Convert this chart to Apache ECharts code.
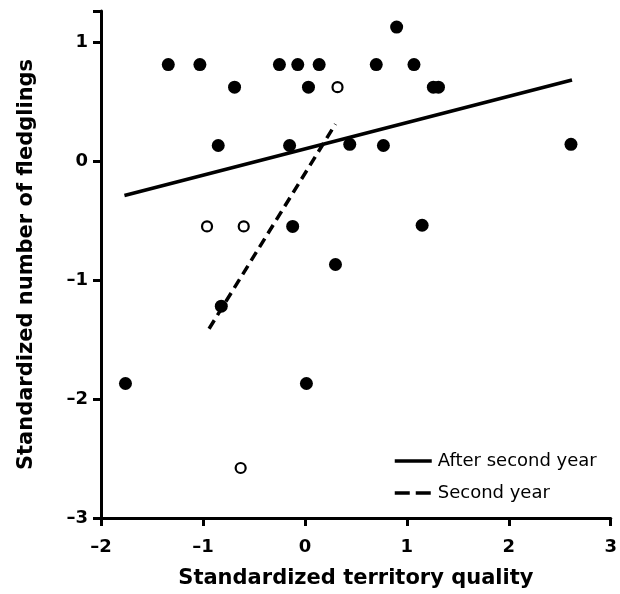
<!DOCTYPE html>
<html><head><meta charset="utf-8">
<script src="https://cdn.jsdelivr.net/npm/echarts@6/dist/echarts.min.js"></script>
<style>html,body{margin:0;padding:0;background:#fff}#c{width:620px;height:594px}</style>
</head><body><div id="c"></div>
<script>
const xTicks = [-2, -1, 0, 1, 2, 3];
const yTicks = [-3, -2, -1, 0, 1];
const filledPoints = [
  [-1.34, 0.81], [-1.03, 0.81], [-0.25, 0.81], [-0.07, 0.81], [0.14, 0.81],
  [0.70, 0.81], [1.07, 0.81], [0.90, 1.125],
  [-0.69, 0.62], [0.035, 0.62], [1.26, 0.62], [1.31, 0.62],
  [-0.85, 0.13], [-0.15, 0.13], [0.44, 0.14], [0.77, 0.13], [2.61, 0.14],
  [-0.12, -0.55], [1.15, -0.54], [0.30, -0.87],
  [-0.82, -1.22], [-1.76, -1.87], [0.015, -1.87]
];
const openPoints = [[0.32, 0.62], [-0.96, -0.55], [-0.60, -0.55], [-0.63, -2.58]];
const afterSecondYearLine = [[-1.77, -0.29], [2.62, 0.68]];
const secondYearLine = [[-0.94, -1.41], [0.30, 0.31]];

const font = 'DejaVu Sans, Liberation Sans, sans-serif';
const fmt = v => String(v).replace('-', '\u2013');
const chart = echarts.init(document.getElementById('c'), null, {renderer: 'canvas'});
chart.setOption({
  animation: false,
  grid: {left: 101, right: 7, top: 11, bottom: 74},
  xAxis: {
    type: 'value', min: -2, max: 3, interval: 1,
    name: 'Standardized territory quality', nameLocation: 'middle', nameGap: 50,
    nameTextStyle: {fontFamily: font, fontWeight: 'bold', fontSize: 21, color: '#000'},
    axisLine: {onZero: false, lineStyle: {color: '#000', width: 3}},
    axisTick: {show: true, length: 8, lineStyle: {color: '#000', width: 3}},
    axisLabel: {fontFamily: font, fontWeight: 'bold', fontSize: 18, color: '#000', margin: 20,
      formatter: v => xTicks.includes(v) ? fmt(v) : ''},
    splitLine: {show: false}
  },
  yAxis: {
    type: 'value', min: -3, max: 1.26, interval: 1,
    name: 'Standardized number of fledglings', nameLocation: 'middle', nameGap: 64,
    nameTextStyle: {fontFamily: font, fontWeight: 'bold', fontSize: 21, color: '#000'},
    axisLine: {onZero: false, lineStyle: {color: '#000', width: 3}},
    axisTick: {show: true, length: 8, lineStyle: {color: '#000', width: 3}},
    axisLabel: {fontFamily: font, fontWeight: 'bold', fontSize: 18, color: '#000', margin: 13,
      formatter: v => yTicks.includes(v) ? fmt(v) : ''},
    splitLine: {show: false}
  },
  legend: {
    orient: 'vertical', left: 388, top: 447, itemGap: 14, itemWidth: 37, itemHeight: 18,
    itemStyle: {color: 'rgba(0,0,0,0)', borderColor: 'rgba(0,0,0,0)', borderWidth: 0},
    lineStyle: {width: 3.5, color: '#000'},
    data: [
      {name: 'After second year'},
      {name: 'Second year', lineStyle: {width: 3.5, type: [15, 6]}}
    ],
    textStyle: {fontFamily: font, fontSize: 18, color: '#000', padding: [0, 0, 0, 1]}
  },
  series: [
    {name: 'filled', type: 'scatter', data: filledPoints, symbol: 'circle', symbolSize: 13,
      itemStyle: {color: '#000', opacity: 1}, z: 3},
    {name: 'open', type: 'scatter', data: openPoints, symbol: 'circle', symbolSize: 10,
      itemStyle: {color: '#fff', borderColor: '#000', borderWidth: 2.2, opacity: 1}, z: 3},
    {name: 'After second year', type: 'line', data: afterSecondYearLine, symbol: 'none',
      lineStyle: {color: '#000', width: 3.5, type: 'solid'}, itemStyle: {color: '#000'}, z: 2},
    {name: 'Second year', type: 'line', data: secondYearLine, symbol: 'none',
      lineStyle: {color: '#000', width: 3.5, type: [10, 6]}, itemStyle: {color: '#000'}, z: 2}
  ]
});
</script></body></html>
